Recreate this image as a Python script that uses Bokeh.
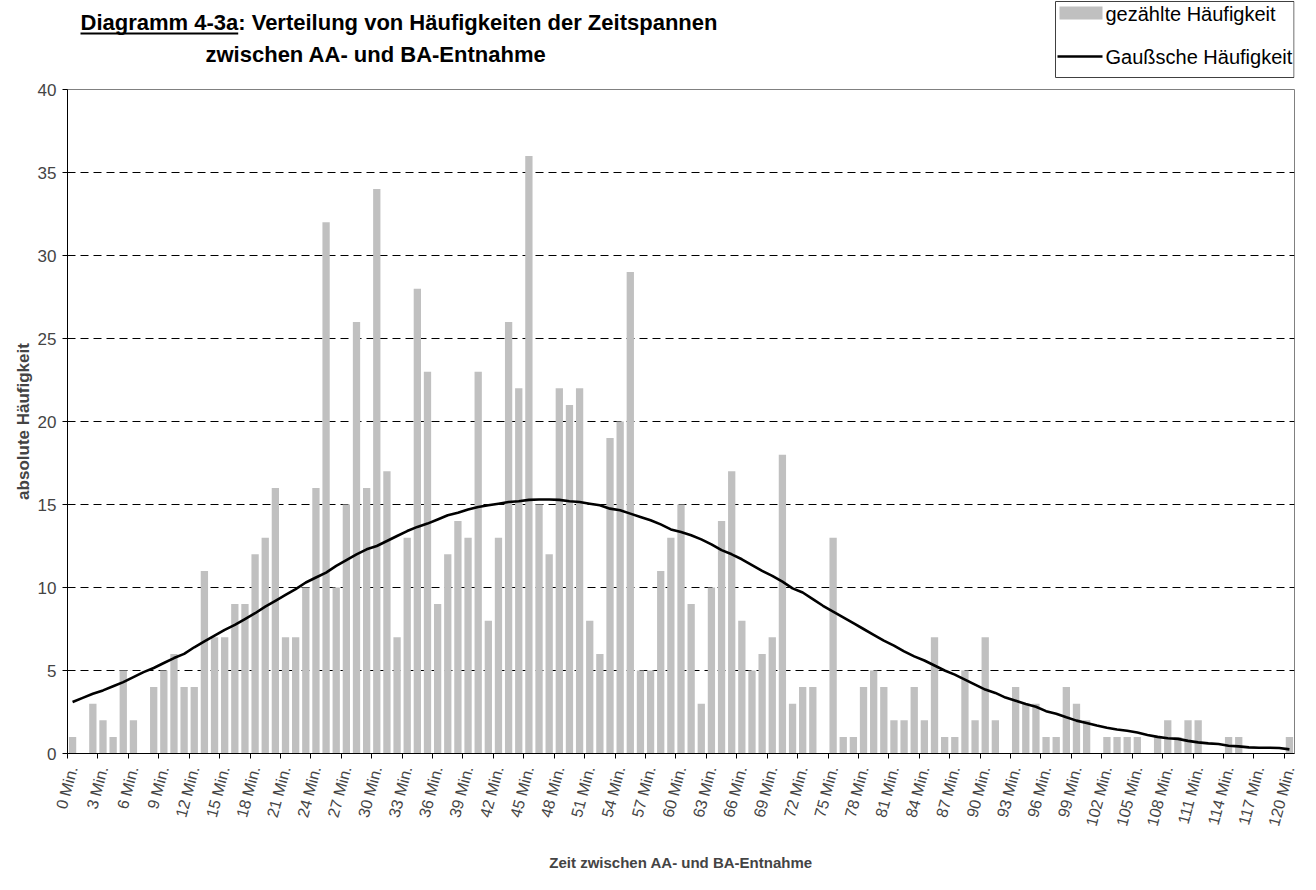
import math
from bokeh.plotting import figure
from bokeh.layouts import column
from bokeh.models import (ColumnDataSource, Range1d, LinearAxis, FixedTicker, Grid)
from bokeh.core.properties import value
from bokeh.embed import file_html
from bokeh.resources import INLINE

minutes = list(range(0, 121))
counts = [1, 0, 3, 2, 1, 5, 2, 0, 4, 5, 6, 4, 4, 11, 7, 7, 9, 9, 12, 13,
          16, 7, 7, 10, 16, 32, 10, 15, 26, 16, 34, 17, 7, 13, 28, 23, 9, 12, 14, 13,
          23, 8, 13, 26, 22, 36, 15, 12, 22, 21, 22, 8, 6, 19, 20, 29, 5, 5, 11, 13,
          15, 9, 3, 10, 14, 17, 8, 5, 6, 7, 18, 3, 4, 4, 0, 13, 1, 1, 4, 5,
          4, 2, 2, 4, 2, 7, 1, 1, 5, 2, 7, 2, 0, 4, 3, 3, 1, 1, 4, 3,
          2, 0, 1, 1, 1, 1, 0, 1, 2, 1, 2, 2, 0, 0, 1, 1, 0, 0, 0, 0, 1]
gauss = [3.1, 3.35, 3.6, 3.8, 4.05, 4.3, 4.6, 4.9, 5.15, 5.45,
         5.75, 6.0, 6.4, 6.75, 7.1, 7.45, 7.75, 8.1, 8.45, 8.85,
         9.2, 9.55, 9.9, 10.3, 10.6, 10.9, 11.3, 11.65, 12.0, 12.3,
         12.5, 12.8, 13.1, 13.4, 13.65, 13.85, 14.1, 14.35, 14.5, 14.7,
         14.85, 14.95, 15.05, 15.15, 15.2, 15.28, 15.3, 15.3, 15.28, 15.2,
         15.15, 15.05, 14.95, 14.75, 14.65, 14.45, 14.25, 14.05, 13.8, 13.5,
         13.35, 13.15, 12.9, 12.6, 12.25, 12.0, 11.7, 11.35, 11.0, 10.7,
         10.35, 9.95, 9.7, 9.3, 8.9, 8.55, 8.2, 7.85, 7.5, 7.15,
         6.8, 6.5, 6.15, 5.85, 5.6, 5.3, 5.0, 4.75, 4.45, 4.15,
         3.85, 3.65, 3.37, 3.18, 2.98, 2.82, 2.55, 2.39, 2.18, 1.98,
         1.84, 1.69, 1.55, 1.45, 1.37, 1.27, 1.12, 1.0, 0.92, 0.88,
         0.76, 0.67, 0.61, 0.57, 0.47, 0.43, 0.37, 0.35, 0.35, 0.33, 0.25]
tick_minutes = list(range(0, 121, 3))
tick_labels = [str(m) + " Min." for m in tick_minutes]
y_ticks = [0, 5, 10, 15, 20, 25, 30, 35, 40]

title_line1 = "Diagramm 4-3a: Verteilung von Häufigkeiten der Zeitspannen"
title_line2 = "zwischen AA- und BA-Entnahme"
x_title = "Zeit zwischen AA- und BA-Entnahme"
y_title = "absolute Häufigkeit"
legend_labels = ["gezählte Häufigkeit", "Gaußsche Häufigkeit"]

FONT = "Liberation Sans"
BAR_COLOR = "#C0C0C0"
TOTAL_H = 874
HEAD_H = 78
TOP_GAP = 11
BORDER_L = 67
BORDER_R = 6
W = 1300

# ---------------- header figure (title + legend) ----------------
# Same side borders as the chart so that the column aligns both frames;
# the x range maps the frame so that data x == canvas pixel.
head = figure(width=W, height=HEAD_H, output_backend="svg", toolbar_location=None,
              x_range=Range1d(BORDER_L, W - BORDER_R), y_range=Range1d(HEAD_H, 0),
              min_border_left=BORDER_L, min_border_right=BORDER_R,
              min_border_top=0, min_border_bottom=0,
              x_axis_location=None, y_axis_location=None)
head.outline_line_color = None
head.background_fill_color = "white"
head.border_fill_color = "white"
head.xgrid.visible = False
head.ygrid.visible = False

TFS = 22
tx = 80
head.text(x=[tx], y=[22], text=[title_line1], text_font=value(FONT),
          text_font_style="bold", text_font_size=f"{TFS}px",
          text_baseline="middle", text_align="left", text_color="black")
lead_w = 7.169 * TFS
head.quad(left=[tx], right=[tx + lead_w], top=[32], bottom=[34],
          fill_color="black", line_color=None)
head.text(x=[205], y=[54], text=[title_line2], text_font=value(FONT),
          text_font_style="bold", text_font_size=f"{TFS}px",
          text_baseline="middle", text_align="left", text_color="black")

# legend box drawn by hand
lx = 1055
head.quad(left=[lx], right=[1293.5], top=[1], bottom=[77],
          fill_color="white", line_color="#404040", line_width=1)
head.quad(left=[lx + 4], right=[lx + 47], top=[6], bottom=[19],
          fill_color=BAR_COLOR, line_color=None)
head.segment(x0=[lx + 2], x1=[lx + 47], y0=[56], y1=[56], line_color="black", line_width=2.6)
head.text(x=[lx + 50, lx + 50], y=[13, 56], text=legend_labels, text_font=value(FONT),
          text_font_size="20px", text_baseline="middle", text_align="left",
          text_color="black")

# ---------------- main chart ----------------
src = ColumnDataSource(dict(x=minutes, counts=counts, gauss=gauss))

p = figure(width=W, height=TOTAL_H - HEAD_H, output_backend="svg", toolbar_location=None,
           x_range=Range1d(-0.5, 120.5), y_range=Range1d(0, 40),
           min_border_left=BORDER_L, min_border_right=BORDER_R, min_border_top=TOP_GAP,
           min_border_bottom=121, x_axis_location=None, y_axis_location=None)
p.background_fill_color = "white"
p.border_fill_color = "white"
p.outline_line_color = "#808080"
p.outline_line_width = 1
p.xgrid.visible = False
p.ygrid.visible = False

yg = Grid(dimension=1, ticker=FixedTicker(ticks=y_ticks[1:-1]),
          grid_line_color="black", grid_line_dash="8 5", grid_line_width=1)
p.add_layout(yg)

bars = p.vbar(x="x", top="counts", width=0.72, source=src,
              fill_color=BAR_COLOR, line_color=None)
line = p.line(x="x", y="gauss", source=src, line_color="black", line_width=2.6)

# y axis
yax = LinearAxis(ticker=FixedTicker(ticks=y_ticks, minor_ticks=[]))
yax.axis_line_color = "black"
yax.major_tick_out = 5
yax.major_tick_in = 0
yax.major_label_standoff = 6
yax.major_label_text_font = FONT
yax.major_label_text_font_size = "17px"
yax.axis_label = y_title
yax.axis_label_text_font = FONT
yax.axis_label_text_font_style = "bold"
yax.axis_label_text_font_size = "17px"
yax.axis_label_standoff = 2
p.add_layout(yax, "left")

# x axis: labels at category centres, tick marks at category boundaries
xax = LinearAxis(ticker=FixedTicker(ticks=tick_minutes,
                                    minor_ticks=[m - 0.5 for m in tick_minutes]))
xax.major_label_overrides = {m: lab for m, lab in zip(tick_minutes, tick_labels)}
xax.major_label_orientation = math.radians(75)
xax.axis_line_color = "black"
xax.major_tick_line_color = None
xax.major_tick_out = 5
xax.major_tick_in = 0
xax.minor_tick_line_color = "black"
xax.minor_tick_out = 5
xax.minor_tick_in = 0
xax.major_label_standoff = 8
xax.major_label_text_font = FONT
xax.major_label_text_font_size = "16px"
xax.axis_label = x_title
xax.axis_label_text_font = FONT
xax.axis_label_text_font_style = "bold"
xax.axis_label_text_font_size = "15px"
xax.axis_label_standoff = 21
p.add_layout(xax, "below")

layout = column(head, p, spacing=0)
open("out.html", "w").write(file_html(layout, INLINE))
